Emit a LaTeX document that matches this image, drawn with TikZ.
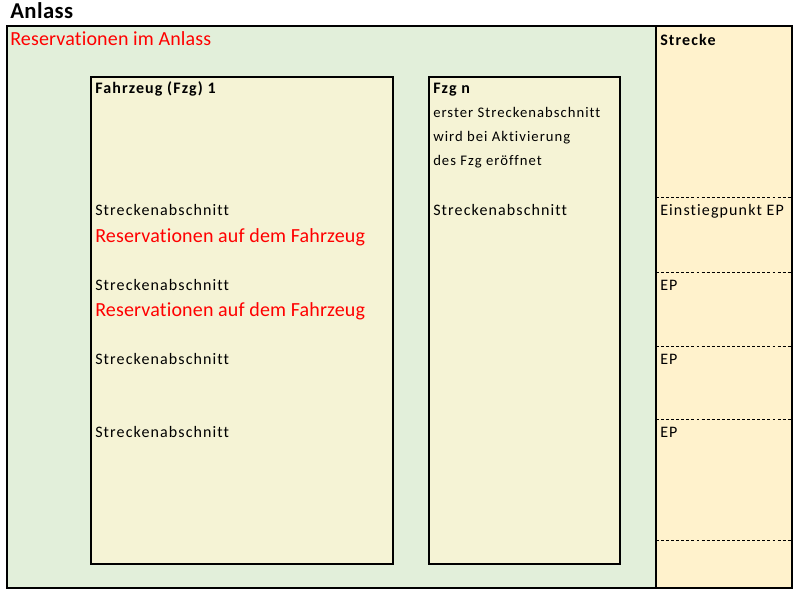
\documentclass[tikz,border=0pt]{standalone}
\usepackage{fontspec}
\setmainfont{Carlito}
\newfontfamily\cellfont[LetterSpace=7,Ligatures=NoCommon]{Carlito}
\newfontfamily\redfont[LetterSpace=0.8,Ligatures=NoCommon]{Carlito}
\newfontfamily\titlefont[LetterSpace=2,Ligatures=NoCommon]{Carlito}
\definecolor{anlassgreen}{HTML}{E2EFDA}
\definecolor{fzgyellow}{HTML}{F5F3D5}
\definecolor{streckeyellow}{HTML}{FFF2CC}
\definecolor{resred}{HTML}{FF0000}
\begin{document}
\begin{tikzpicture}[x=0.75pt,y=-0.75pt,
  frame/.style={draw=black,line width=1pt},
  txt/.style={anchor=base west,inner sep=0pt,font=\cellfont\fontsize{12}{14}\selectfont},
  smalltxt/.style={anchor=base west,inner sep=0pt,font=\cellfont\fontsize{11}{13}\selectfont},
  boldtxt/.style={txt,font=\cellfont\fontsize{12}{14}\selectfont\bfseries},
  redtxt/.style={anchor=base west,inner sep=0pt,text=resred,font=\redfont\fontsize{15}{17}\selectfont},
  sep/.style={draw=black,dashed,dash pattern=on 2.2pt off 1.6pt,line width=0.7pt}]
\useasboundingbox (0,0) rectangle (799,595);
\fill[white] (0,0) rectangle (799,595);
% regions
\fill[anlassgreen] (7,26) rectangle (656,588);
\fill[streckeyellow] (656,26) rectangle (792,588);
\coordinate (s1l) at (656,197); \coordinate (s1r) at (792,197);
\coordinate (s2l) at (656,272); \coordinate (s2r) at (792,272);
\coordinate (s3l) at (656,346); \coordinate (s3r) at (792,346);
\coordinate (s4l) at (656,419); \coordinate (s4r) at (792,419);
\coordinate (s5l) at (656,540); \coordinate (s5r) at (792,540);
\draw[sep] (s1l) -- (s1r);
\draw[sep] (s2l) -- (s2r);
\draw[sep] (s3l) -- (s3r);
\draw[sep] (s4l) -- (s4r);
\draw[sep] (s5l) -- (s5r);
\draw[frame] (7,26) rectangle (792,588);
\draw[frame] (656,26) -- (656,588);
% vehicle boxes
\draw[frame,fill=fzgyellow] (91,77) rectangle (393,564);
\draw[frame,fill=fzgyellow] (429,77) rectangle (620,564);
% texts
\node[anchor=base west,inner sep=0pt,font=\titlefont\fontsize{17}{19}\selectfont\bfseries] (title) at (10,19) {Anlass};
\node[redtxt] (resanlass) at (10,46) {Reservationen im Anlass};
\node[boldtxt] (strecke) at (660,46) {Strecke};
\node[boldtxt] (fzg1) at (95,94) {Fahrzeug (Fzg) 1};
\node[txt] (f1s1) at (95,216) {Streckenabschnitt};
\node[redtxt] (f1r1) at (95,243) {Reservationen auf dem Fahrzeug};
\node[txt] (f1s2) at (95,290) {Streckenabschnitt};
\node[redtxt] (f1r2) at (95,316) {Reservationen auf dem Fahrzeug};
\node[txt] (f1s3) at (95,364) {Streckenabschnitt};
\node[txt] (f1s4) at (95,437) {Streckenabschnitt};
\node[boldtxt] (fzgn) at (433,94) {Fzg n};
\node[smalltxt] (fn1) at (433,118) {erster Streckenabschnitt};
\node[smalltxt] (fn2) at (433,142) {wird bei Aktivierung};
\node[smalltxt] (fn3) at (433,166) {des Fzg eröffnet};
\node[txt] (fns1) at (433,216) {Streckenabschnitt};
\node[txt] (ep1) at (660,216) {Einstiegpunkt EP};
\node[txt] (ep2) at (660,290) {EP};
\node[txt] (ep3) at (660,364) {EP};
\node[txt] (ep4) at (660,437) {EP};
\end{tikzpicture}
\end{document}
